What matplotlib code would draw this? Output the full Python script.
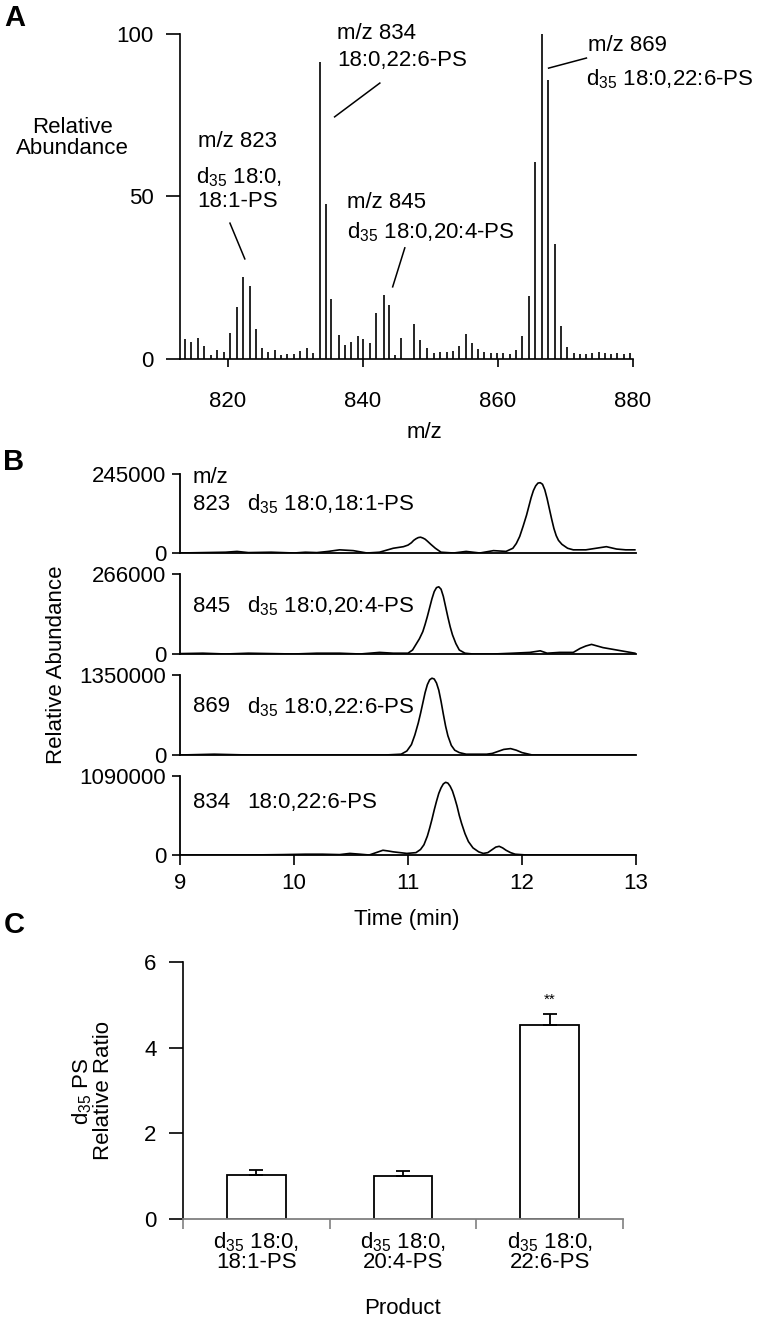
import numpy as np
import matplotlib
matplotlib.use("Agg")
import matplotlib.pyplot as plt

plt.rcParams['font.family'] = ['Liberation Sans', 'DejaVu Sans']
plt.rcParams['font.size'] = 16
plt.rcParams['mathtext.fontset'] = 'custom'
plt.rcParams['mathtext.rm'] = 'Liberation Sans'
plt.rcParams['mathtext.it'] = 'Liberation Sans:italic'
plt.rcParams['mathtext.bf'] = 'Liberation Sans:bold'

# ---- panel A: mass spectrum (m/z, relative abundance %)
mz = [813.6, 814.6, 815.5, 816.5, 817.5, 818.4, 819.4, 820.3, 821.3, 822.3,
      823.3, 824.1, 825.0, 826.0, 826.9, 827.9, 828.8, 829.8, 830.7, 831.7,
      832.6, 833.7, 834.5, 835.3, 836.4, 837.3, 838.3, 839.2, 840.0, 841.1,
      842.0, 843.1, 843.9, 844.8, 845.7, 847.6, 848.5, 849.5, 850.5, 851.4,
      852.4, 853.3, 854.2, 855.2, 856.1, 857.0, 858.0, 858.9, 859.9, 860.8,
      861.8, 862.7, 863.6, 864.6, 865.5, 866.5, 867.4, 868.4, 869.3, 870.2,
      871.2, 872.1, 873.0, 874.0, 874.9, 875.8, 876.7, 877.7, 878.6, 879.5]
abund = [6.1, 5.1, 6.4, 3.9, 1.3, 2.7, 2.3, 8.0, 16.0, 25.2,
         22.5, 9.2, 3.4, 2.0, 2.7, 1.2, 1.4, 1.6, 2.5, 3.4,
         1.8, 91.5, 47.7, 18.6, 7.5, 4.3, 5.1, 7.0, 6.1, 4.9,
         14.1, 19.8, 16.7, 1.3, 6.5, 10.8, 5.9, 3.4, 1.8, 2.0,
         2.0, 2.4, 4.1, 7.8, 4.9, 3.1, 2.0, 1.8, 1.8, 1.8,
         1.5, 2.9, 7.2, 19.5, 60.6, 100.0, 85.9, 35.3, 10.0, 3.7,
         1.8, 1.5, 1.5, 1.8, 2.0, 1.8, 1.5, 1.8, 1.5, 1.8]

# ---- panel B: extracted ion chromatograms (fraction of full scale)
t_823 = [9.0, 9.2, 9.4, 9.5, 9.6, 9.8, 10.0, 10.1, 10.2, 10.3, 10.4, 10.52,
         10.64, 10.75, 10.87, 10.96, 11.0, 11.03, 11.05, 11.07, 11.09, 11.11,
         11.13, 11.15, 11.17, 11.20, 11.24, 11.29, 11.40, 11.51, 11.63, 11.75,
         11.86, 11.92, 11.95, 11.98, 12.01, 12.04, 12.06, 12.08, 12.10, 12.12,
         12.14, 12.16, 12.18, 12.20, 12.22, 12.24, 12.26, 12.28, 12.30, 12.32,
         12.35, 12.40, 12.45, 12.56, 12.65, 12.74, 12.83, 12.91, 12.99]
f_823 = [0.0, 0.005, 0.01, 0.02, 0.005, 0.01, 0.0, 0.01, 0.005, 0.02, 0.04, 0.03,
         0.0, 0.01, 0.06, 0.08, 0.10, 0.13, 0.16, 0.18, 0.195, 0.20,
         0.19, 0.175, 0.15, 0.11, 0.06, 0.01, 0.0, 0.02, 0.0, 0.03,
         0.02, 0.06, 0.12, 0.21, 0.34, 0.48, 0.59, 0.70, 0.79, 0.85,
         0.885, 0.89, 0.87, 0.80, 0.69, 0.56, 0.43, 0.31, 0.22, 0.16,
         0.11, 0.06, 0.04, 0.04, 0.06, 0.08, 0.05, 0.04, 0.04]

t_845 = [9.0, 9.2, 9.4, 9.6, 9.8, 10.0, 10.2, 10.4, 10.58, 10.75, 10.87, 11.00,
         11.04, 11.07, 11.10, 11.13, 11.15, 11.17, 11.19, 11.21, 11.23, 11.25,
         11.27, 11.29, 11.31, 11.33, 11.35, 11.37, 11.39, 11.42, 11.45, 11.50,
         11.57, 11.75, 11.92, 12.07, 12.16, 12.22, 12.33, 12.45, 12.51, 12.56,
         12.61, 12.66, 12.71, 12.83, 12.99]
f_845 = [0.005, 0.01, 0.0, 0.01, 0.005, 0.0, 0.01, 0.01, 0.0, 0.02, 0.01, 0.01,
         0.05, 0.12, 0.19, 0.28, 0.37, 0.47, 0.58, 0.69, 0.78, 0.83,
         0.84, 0.81, 0.72, 0.59, 0.46, 0.34, 0.24, 0.13, 0.05, 0.01,
         0.0, 0.0, 0.01, 0.02, 0.04, 0.01, 0.02, 0.02, 0.07, 0.10,
         0.12, 0.10, 0.08, 0.05, 0.01]

t_869 = [9.0, 9.3, 9.6, 10.0, 10.4, 10.8, 10.94, 10.99, 11.03, 11.06, 11.09,
         11.11, 11.13, 11.15, 11.17, 11.19, 11.21, 11.23, 11.25, 11.27, 11.29,
         11.31, 11.33, 11.35, 11.38, 11.41, 11.45, 11.51, 11.69, 11.74, 11.78,
         11.84, 11.90, 11.95, 12.00, 12.09, 12.5, 12.99]
f_869 = [0.0, 0.01, 0.0, 0.0, 0.0, 0.0, 0.01, 0.05, 0.13, 0.25, 0.40,
         0.52, 0.65, 0.78, 0.88, 0.94, 0.96, 0.95, 0.90, 0.81, 0.67,
         0.51, 0.36, 0.24, 0.12, 0.06, 0.03, 0.01, 0.01, 0.02, 0.04,
         0.07, 0.08, 0.06, 0.03, 0.0, 0.0, 0.0]

t_834 = [9.0, 9.3, 9.6, 9.9, 10.1, 10.25, 10.4, 10.49, 10.58, 10.66, 10.72,
         10.78, 10.83, 10.87, 10.99, 11.07, 11.11, 11.14, 11.17, 11.19, 11.21,
         11.23, 11.25, 11.27, 11.29, 11.31, 11.33, 11.35, 11.37, 11.39, 11.41,
         11.43, 11.45, 11.47, 11.50, 11.53, 11.57, 11.62, 11.66, 11.70, 11.73,
         11.77, 11.80, 11.83, 11.86, 11.90, 11.94, 12.04, 12.16, 12.5, 12.99]
f_834 = [0.0, 0.0, 0.0, 0.005, 0.01, 0.01, 0.005, 0.02, 0.01, 0.0, 0.03,
         0.06, 0.05, 0.04, 0.02, 0.03, 0.07, 0.13, 0.24, 0.34, 0.45,
         0.57, 0.68, 0.78, 0.85, 0.90, 0.92, 0.91, 0.87, 0.81, 0.72,
         0.62, 0.50, 0.40, 0.27, 0.17, 0.09, 0.04, 0.02, 0.03, 0.06,
         0.10, 0.11, 0.09, 0.06, 0.03, 0.01, 0.0, 0.0, 0.0, 0.0]

traces = [
    (t_823, f_823, 245000, "823", r"d$_{35}$ 18:0,18:1-PS"),
    (t_845, f_845, 266000, "845", r"d$_{35}$ 18:0,20:4-PS"),
    (t_869, f_869, 1350000, "869", r"d$_{35}$ 18:0,22:6-PS"),
    (t_834, f_834, 1090000, "834", "18:0,22:6-PS"),
]

# ---- panel C: bar chart
products = ["d$_{35}$ 18:0,\n18:1-PS", "d$_{35}$ 18:0,\n20:4-PS", "d$_{35}$ 18:0,\n22:6-PS"]
ratio = [1.03, 1.00, 4.52]
ratio_err = [0.11, 0.13, 0.27]

W, H = 757, 1326
fig = plt.figure(figsize=(W / 100, H / 100), dpi=100)


def px_axes(left, top, right, bottom):
    return fig.add_axes([left / W, 1 - bottom / H, (right - left) / W, (bottom - top) / H])


def fig_xy(x, y):
    return x / W, 1 - y / H


# ===== A
axA = px_axes(180, 34, 633, 359)
axA.vlines(mz, 0, abund, color='black', lw=1.2)
axA.set_xlim(812.9, 880)
axA.set_ylim(0, 100)
for s in ['top', 'right']:
    axA.spines[s].set_visible(False)
for s in ['left', 'bottom']:
    axA.spines[s].set_linewidth(1.2)
axA.set_xticks([820, 840, 860, 880])
axA.set_yticks([0, 50, 100])
axA.tick_params(axis='y', length=10, width=1.2, pad=9)
axA.tick_params(axis='x', length=6, width=1.2, pad=17)

kw = dict(fontsize=16, ha='left', va='center', clip_on=False)
axA.text(815.6, 67, "m/z 823", **kw)
axA.text(815.3, 56, r"d$_{35}$ 18:0,", **kw)
axA.text(815.5, 48.5, "18:1-PS", **kw)
axA.plot([820.3, 822.5], [41.8, 30.8], color='black', lw=1.1)
axA.text(836.1, 100.3, "m/z 834", **kw)
axA.text(836.2, 91.7, "18:0,22:6-PS", **kw)
axA.plot([842.5, 835.8], [84.9, 74.5], color='black', lw=1.1)
axA.text(837.6, 48, "m/z 845", **kw)
axA.text(837.6, 39, r"d$_{35}$ 18:0,20:4-PS", **kw)
axA.plot([846.2, 844.4], [34.2, 22.2], color='black', lw=1.1)
axA.text(873.3, 96.6, "m/z 869", **kw)
axA.text(873.1, 86.2, r"d$_{35}$ 18:0,22:6-PS", **kw)
axA.plot([873.1, 867.5], [92.6, 89.5], color='black', lw=1.1, clip_on=False)

fig.text(*fig_xy(424, 433), "m/z", ha='center', va='center', fontsize=16)
fig.text(*fig_xy(72, 138), "Relative\nAbundance", ha='center', va='center',
         fontsize=16, linespacing=1.0)
fig.text(*fig_xy(15, 18), "A", fontsize=21, fontweight='bold', ha='center', va='center')

# ===== B
rows = [(474, 553), (574, 654), (675, 755), (776, 855)]
label_y = [0.62, 0.60, 0.60, 0.66]
for i, ((top, bot), (tt, ff, ymax, ion, name)) in enumerate(zip(rows, traces)):
    ax = px_axes(180, top, 636, bot)
    ax.plot(tt, np.array(ff) * ymax, color='black', lw=1.2)
    ax.set_xlim(9, 13)
    ax.set_ylim(0, ymax)
    ax.set_yticks([0, ymax])
    ax.set_yticklabels(["0", str(ymax)])
    for s in ['top', 'right']:
        ax.spines[s].set_visible(False)
    for s in ['left', 'bottom']:
        ax.spines[s].set_linewidth(1.3)
    ax.tick_params(axis='y', length=6, width=1.2, pad=4)
    if i < 3:
        ax.set_xticks([])
    else:
        ax.set_xticks([9, 10, 11, 12, 13])
        ax.tick_params(axis='x', length=7, width=1.2, pad=6)
    ax.text(0.0285, label_y[i], ion, transform=ax.transAxes, ha='left', va='center',
            fontsize=16)
    ax.text(0.147, label_y[i], name, transform=ax.transAxes, ha='left', va='center',
            fontsize=16)
    if i == 0:
        ax.text(0.0285, 0.96, "m/z", transform=ax.transAxes, ha='left', va='center',
                fontsize=16)

fig.text(*fig_xy(407, 920), "Time (min)", ha='center', va='center', fontsize=16)
fig.text(*fig_xy(57, 665), "Relative Abundance", ha='center', va='center',
         rotation=90, fontsize=16)
fig.text(*fig_xy(14, 462), "B", fontsize=21, fontweight='bold', ha='center', va='center')

# ===== C
axC = px_axes(183, 962, 623, 1219)
xpos = np.arange(len(ratio)) + 0.5
axC.bar(xpos, ratio, width=0.4, color='white', edgecolor='black', lw=1.3,
        yerr=[np.zeros(len(ratio)), ratio_err], capsize=5,
        error_kw=dict(ecolor='black', elinewidth=1.3, capthick=1.3))
axC.set_xlim(0, 3)
axC.set_ylim(0, 6)
axC.set_yticks([0, 2, 4, 6])
axC.set_xticks([0, 1, 2, 3])
axC.set_xticklabels([])
axC.set_xticks(xpos, products, minor=True)
axC.tick_params(axis='x', which='major', length=7, width=1.2, color='#808080')
axC.tick_params(axis='x', which='minor', length=0, pad=8)
for lab in axC.get_xticklabels(minor=True):
    lab.set_linespacing(0.9)
axC.tick_params(axis='y', length=10, width=1.2, pad=9)
for s in ['top', 'right']:
    axC.spines[s].set_visible(False)
axC.spines['bottom'].set_color('#808080')
axC.spines['bottom'].set_linewidth(1.3)
axC.spines['left'].set_linewidth(1.2)
axC.text(2.5, 5.12, "**", ha='center', va='center', fontsize=11)

fig.text(*fig_xy(403, 1308), "Product", ha='center', va='center', fontsize=16)
fig.text(*fig_xy(92, 1091), "d$_{35}$ PS\nRelative Ratio", ha='center', va='center',
         rotation=90, fontsize=16, linespacing=0.95)
fig.text(*fig_xy(14, 925), "C", fontsize=21, fontweight='bold', ha='center', va='center')

fig.savefig("out.png", dpi=100)
